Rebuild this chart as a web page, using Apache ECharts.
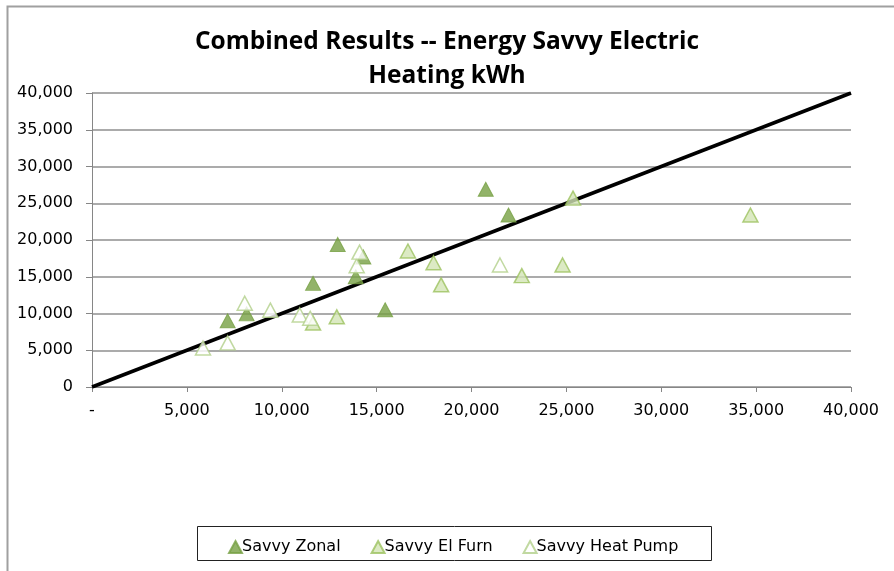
<!DOCTYPE html>
<html>
<head>
<meta charset="utf-8">
<script src="https://cdn.jsdelivr.net/npm/echarts@6/dist/echarts.min.js"></script>
<style>
  html, body { margin: 0; padding: 0; background: #fff; }
  #chart { width: 894px; height: 571px; }
</style>
</head>
<body>
<div id="chart"></div>
<script>
// Predicted vs. billed heating kWh, [x, y] pairs per program group
const savvyZonal = [
  [7150, 9000], [8150, 9950], [11650, 14100], [12950, 19400], [13900, 15000],
  [14300, 17700], [15450, 10500], [20750, 26900], [21950, 23400]
];
const savvyElFurn = [
  [11650, 8700], [12900, 9550], [16650, 18500], [18000, 16900], [18400, 13900],
  [22650, 15150], [24800, 16600], [25350, 25700], [34700, 23400]
];
const savvyHeatPump = [
  [5850, 5300], [7150, 6000], [8050, 11400], [9400, 10450], [10950, 9800],
  [11500, 9350], [13950, 16500], [14100, 18350], [21500, 16600]
];
const oneToOne = [[0, 0], [40000, 40000]];

const seriesNames = ['Savvy Zonal', 'Savvy El Furn', 'Savvy Heat Pump'];
const titleLines = ['Combined Results -- Energy Savvy Electric', 'Heating kWh'];
const axisMax = 40000;
const axisStep = 5000;

const fmt = v => v.toLocaleString('en-US');

const chart = echarts.init(document.getElementById('chart'), null, { renderer: 'canvas' });

const labelFont = { fontFamily: 'DejaVu Sans', fontSize: 16, color: '#000' };
const tri = [15, 14];

chart.setOption({
  animation: false,
  backgroundColor: '#fff',
  title: {
    text: titleLines.join('\n'),
    left: 'center',
    top: 20,
    textStyle: {
      fontFamily: 'Open Sans', fontWeight: 'bold', fontSize: 24.5, color: '#000', lineHeight: 34
    }
  },
  graphic: [
    {
      type: 'rect', silent: true,
      shape: { x: 7.5, y: 6.5, width: 1000, height: 700 },
      style: { fill: 'none', stroke: '#a0a0a0', lineWidth: 2 }
    },
    {
      type: 'rect', silent: true,
      shape: { x: 197.5, y: 526.5, width: 514, height: 34 },
      style: { fill: 'none', stroke: '#222', lineWidth: 1 }
    }
  ],
  legend: {
    data: seriesNames,
    left: 223,
    top: 534,
    icon: 'triangle',
    itemWidth: 13,
    itemHeight: 12,
    itemGap: 30,
    textStyle: { fontFamily: 'DejaVu Sans', fontSize: 16, color: '#000', padding: [0, 0, 0, -5] }
  },
  grid: { left: 92, right: 43, top: 93, bottom: 184, containLabel: false },
  xAxis: {
    type: 'value', min: 0, max: axisMax, interval: axisStep,
    axisLine: { show: true, lineStyle: { color: '#868686', width: 1 } },
    axisTick: { show: true, length: 5, lineStyle: { color: '#868686' } },
    axisLabel: Object.assign({ margin: 16, formatter: v => v === 0 ? '-' : fmt(v) }, labelFont),
    splitLine: { show: false }
  },
  yAxis: {
    type: 'value', min: 0, max: axisMax, interval: axisStep,
    axisLine: { show: true, lineStyle: { color: '#868686', width: 1 } },
    axisTick: { show: true, length: 6, lineStyle: { color: '#868686' } },
    axisLabel: Object.assign({ margin: 19, formatter: v => fmt(v) }, labelFont),
    splitLine: { show: true, lineStyle: { color: '#8f8f8f', width: 1.5 } }
  },
  series: [
    {
      name: 'one-to-one', type: 'line', data: oneToOne, symbol: 'none', z: 1,
      lineStyle: { color: '#000', width: 3.5 }, silent: true
    },
    {
      name: seriesNames[0], type: 'scatter', data: savvyZonal, symbol: 'triangle', symbolSize: tri, z: 3,
      itemStyle: { color: '#77a043', borderColor: '#77a043', borderWidth: 1 }
    },
    {
      name: seriesNames[1], type: 'scatter', data: savvyElFurn, symbol: 'triangle', symbolSize: tri, z: 3,
      itemStyle: { color: '#d3e5b5', borderColor: '#9cc25f', borderWidth: 1.5 }
    },
    {
      name: seriesNames[2], type: 'scatter', data: savvyHeatPump, symbol: 'triangle', symbolSize: tri, z: 3,
      itemStyle: { color: '#ffffff', borderColor: '#b2d08a', borderWidth: 1.5 }
    }
  ]
});
</script>
</body>
</html>
